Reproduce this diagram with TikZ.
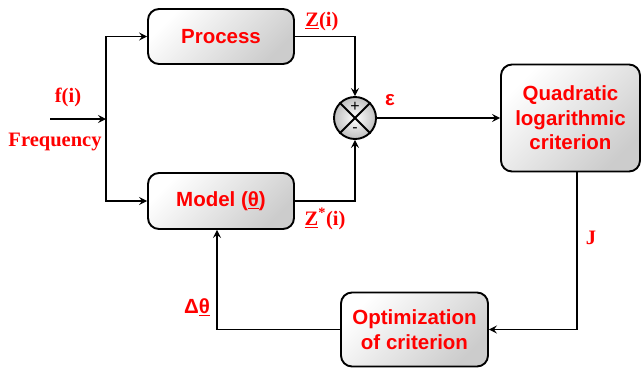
\documentclass[tikz,border=0pt]{standalone}
\usepackage{fontspec}
\setmainfont{Liberation Serif}
\setsansfont{Liberation Sans}
\usetikzlibrary{arrows.meta,calc}
\definecolor{txtred}{RGB}{255,0,0}

\begin{document}
\begin{tikzpicture}[x=1pt,y=-1pt,
  block/.style={draw=black, line width=1.9pt, rounded corners=11pt,
    top color=white, bottom color=black!20, shading angle=45,
    font=\sffamily\bfseries\fontsize{20.5}{24.5}\selectfont,
    text=txtred, align=center, inner sep=0pt},
  lbl/.style={font=\rmfamily\bfseries\fontsize{20.5}{24}\selectfont, text=txtred, inner sep=0pt},
  slbl/.style={font=\sffamily\bfseries\fontsize{20.5}{24}\selectfont, text=txtred, inner sep=0pt},
  sgn/.style={font=\sffamily\fontsize{16}{16}\selectfont, inner sep=0pt},
  arr/.style={line width=1.8pt, -{Stealth[length=8pt,width=8pt,inset=3pt]}},
  wire/.style={line width=1.8pt}]
\useasboundingbox (0,0) rectangle (642,368);

% blocks
\node[block, minimum width=146pt, minimum height=55pt] (proc) at (221,36.5) {Process};
\node[block, minimum width=146pt, minimum height=56pt] (model) at (221,201) {Model (\underline{θ})};
\node[block, minimum width=139pt, minimum height=107pt] (quad) at (570.5,118) {Quadratic\\logarithmic\\criterion};
\node[block, minimum width=147pt, minimum height=74pt] (opt) at (414.5,329.5) {Optimization\\of criterion};

% summing junction
\node[circle, draw=black, line width=1.9pt, minimum size=42pt, inner sep=0pt,
      inner color=white, outer color=black!25] (sum) at (355,118) {};
\draw[wire] (sum.45) -- (sum.225);
\draw[wire] (sum.135) -- (sum.-45);
\node[sgn] (plus) at (355,107) {+};
\node[sgn] (minus) at (355,130) {-};

% input and branches
\coordinate (in) at (50,119);
\coordinate (split) at (106,119);
\draw[arr] (in) -- (split);
\draw[arr] (split) |- (proc.west);
\draw[arr] (split) |- (model.west);

% outputs into the junction
\draw[arr] (proc.east) -| (sum.north);
\draw[arr] (model.east) -| (sum.south);
\draw[arr] (sum.east) -- (quad.west);

% criterion and feedback loop
\draw[arr] ($(quad.south)+(6.5,0)$) |- (opt.east);
\draw[arr] (opt.west) -| ($(model.south)+(-4,0)$);

% signal labels
\node[lbl] (fi) at (68,97) {f(i)};
\node[lbl] (freq) at (55,142) {Frequency};
\node[lbl] (zi) at (322,22) {\underline{Z}(i)};
\node[lbl] (zsi) at (325,219) {\underline{Z}\textsuperscript{*}(i)};
\node[slbl] (eps) at (390,100) {ε};
\node[lbl] (jl) at (591,238) {J};
\node[slbl] (dth) at (197,307) {Δ\underline{θ}};
\end{tikzpicture}
\end{document}
